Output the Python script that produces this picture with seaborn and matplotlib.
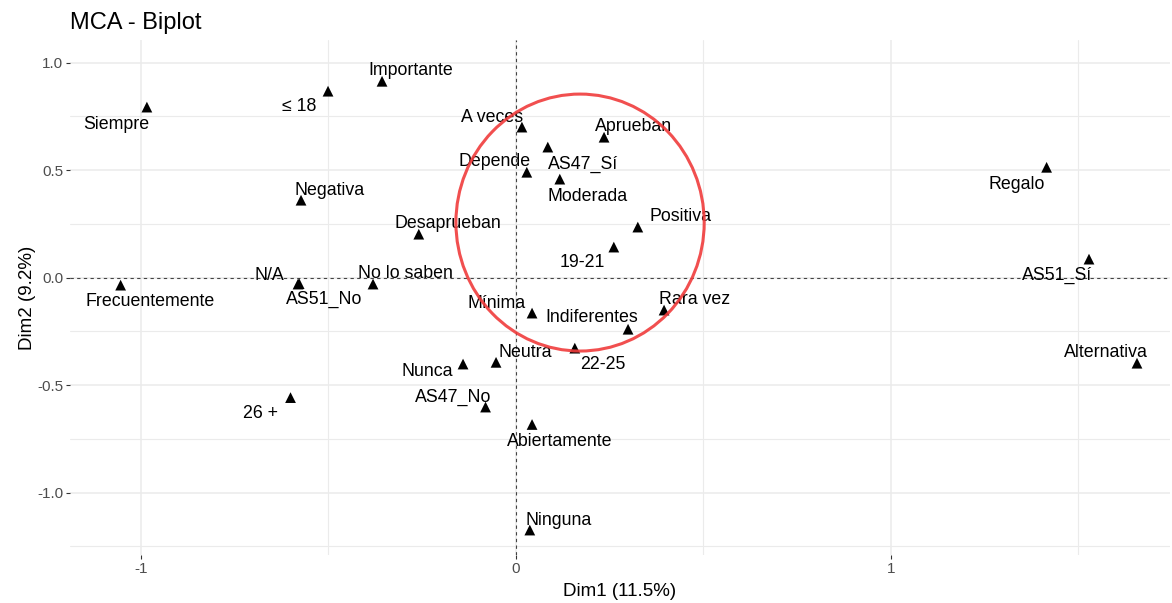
import matplotlib
matplotlib.use("Agg")
import matplotlib.pyplot as plt
from matplotlib.patches import Ellipse
from matplotlib.ticker import FixedLocator
import seaborn as sns
import pandas as pd

# ---- data ----
labels = ["Siempre", "≤ 18", "Importante", "Negativa", "N/A", "AS51_No", "No lo saben",
          "Frecuentemente", "Desaprueban", "A veces", "Aprueban", "AS47_Sí", "Depende",
          "Moderada", "Positiva", "19-21", "Mínima", "Indiferentes", "Rara vez", "22-25",
          "Neutra", "Nunca", "AS47_No", "Abiertamente", "Ninguna", "26 +", "Regalo",
          "AS51_Sí", "Alternativa"]
dim1 = [-0.984, -0.501, -0.357, -0.573, -0.581, -0.578, -0.381,
        -1.054, -0.259, 0.016, 0.235, 0.085, 0.029,
        0.117, 0.325, 0.261, 0.043, 0.299, 0.395, 0.157,
        -0.053, -0.141, -0.081, 0.043, 0.037, -0.601, 1.415,
        1.528, 1.656]
dim2 = [0.793, 0.867, 0.913, 0.360, -0.030, -0.028, -0.030,
        -0.035, 0.202, 0.700, 0.653, 0.607, 0.490,
        0.458, 0.235, 0.142, -0.165, -0.240, -0.151, -0.328,
        -0.394, -0.402, -0.602, -0.683, -1.174, -0.558, 0.513,
        0.086, -0.398]
# label offsets in pixels (dx, dy) relative to the point (layout, like ggrepel)
label_dx = [-31, -29, 29, 29, -29, 25, 32, 29, 29, -30, 29, 35, -32, 28, 43, -31, -35, -36,
            30, 28, 29, -36, -32, 28, 29, -30, -30, -32, -31]
label_dy = [-17, -15, 11, 10, 9, -16, 11, -16, 11, 10, 11, -17, 11, -17, 11, -15, 10, 12,
            11, -16, 10, -7, 10, -17, 10, -16, -17, -16, 11]

# highlight circle (data units)
circle_center = (0.171, 0.256)
circle_w, circle_h = 0.662, 1.195

title = "MCA - Biplot"
xlabel = "Dim1 (11.5%)"
ylabel = "Dim2 (9.2%)"

df = pd.DataFrame({"Dim1": dim1, "Dim2": dim2, "label": labels})

sns.set_theme(style="white")
plt.rcParams["font.family"] = ["Liberation Sans", "DejaVu Sans"]

fig = plt.figure(figsize=(11.72, 6.03), dpi=100)
ax = fig.add_axes([70 / 1172, 48 / 603, 1100 / 1172, 515 / 603])

ax.set_xlim(-1.189, 1.744)
ax.set_ylim(-1.29, 1.105)

# grid
ax.xaxis.set_major_locator(FixedLocator([-1, 0, 1]))
ax.yaxis.set_major_locator(FixedLocator([-1.0, -0.5, 0.0, 0.5, 1.0]))
ax.xaxis.set_minor_locator(FixedLocator([-0.5, 0.5, 1.5]))
ax.yaxis.set_minor_locator(FixedLocator([-1.25, -0.75, -0.25, 0.25, 0.75]))
ax.grid(which="major", color="#EBEBEB", linewidth=1.1)
ax.grid(which="minor", color="#EBEBEB", linewidth=0.8)
ax.set_axisbelow(True)
for s in ax.spines.values():
    s.set_visible(False)

ax.set_xticklabels(["-1", "0", "1"])
ax.set_yticklabels(["-1.0", "-0.5", "0.0", "0.5", "1.0"])
ax.tick_params(axis="both", which="major", length=3, width=0.8, color="#333333",
               labelsize=11, labelcolor="#4D4D4D", pad=2, bottom=True, left=True)
ax.tick_params(which="minor", length=0)

ax.axhline(0, color="#444444", linestyle=(0, (3, 3)), linewidth=0.8, zorder=1)
ax.axvline(0, color="#444444", linestyle=(0, (3, 3)), linewidth=0.8, zorder=1)

sns.scatterplot(data=df, x="Dim1", y="Dim2", marker="^", color="black", s=60,
                edgecolor="none", ax=ax, zorder=3, legend=False)

for lab, x, y, dx, dy in zip(labels, dim1, dim2, label_dx, label_dy):
    ax.annotate(lab, (x, y), xytext=(dx, dy), textcoords="offset pixels",
                ha="center", va="center", fontsize=12.8, color="black", zorder=4)

ax.add_patch(Ellipse(circle_center, circle_w, circle_h, fill=False,
                     edgecolor="#F03C3C", linewidth=2.2, alpha=0.9, zorder=5))

ax.set_xlabel(xlabel, fontsize=13.5, color="black", labelpad=5)
ax.set_ylabel(ylabel, fontsize=13.5, color="black", labelpad=1)
fig.text(70 / 1172, 1 - 29 / 603, title, fontsize=17, ha="left", va="baseline",
         color="black")

fig.savefig("out.png", dpi=100, facecolor="white")
